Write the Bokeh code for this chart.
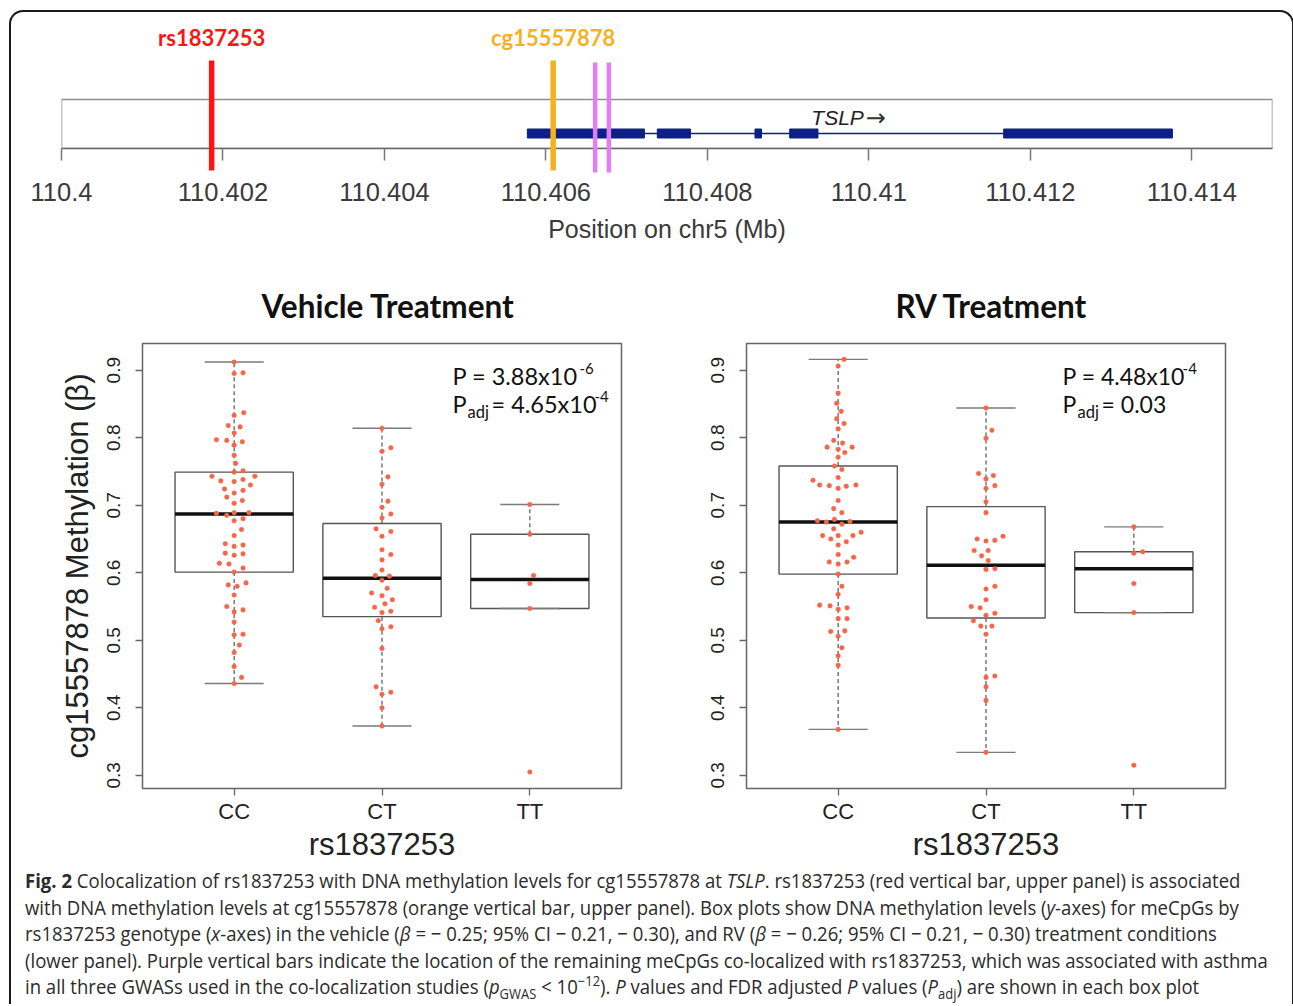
import numpy as np
from bokeh.plotting import figure
from bokeh.models import Range1d, FixedTicker, Label, Div
from bokeh.layouts import column, row
from bokeh.embed import file_html
from bokeh.resources import INLINE
from bokeh.core.properties import value

# ---------------- data: gene track (chr5, Mb) ----------------
track_start, track_end = 110.400, 110.415
track_ticks = [110.400, 110.402, 110.404, 110.406, 110.408, 110.410, 110.412, 110.414]
track_tick_labels = ["110.4", "110.402", "110.404", "110.406", "110.408", "110.41", "110.412", "110.414"]
snp_label = "rs1837253"
snp_pos = 110.40186
cpg_label = "cg15557878"
cpg_pos = 110.40609
other_cpg_pos = [110.40661, 110.40678]
gene_label = "TSLP"
gene_start, gene_end = 110.40577, 110.41376
exon_start = [110.40577, 110.40738, 110.40859, 110.40902, 110.41167]
exon_end = [110.40722, 110.40779, 110.40867, 110.40937, 110.41376]

# ---------------- data: box plots ----------------
genotypes = ["CC", "CT", "TT"]
y_ticks = [0.3, 0.4, 0.5, 0.6, 0.7, 0.8, 0.9]

veh_q1 = [0.601, 0.535, 0.547]
veh_med = [0.687, 0.592, 0.590]
veh_q3 = [0.749, 0.673, 0.657]
veh_lo = [0.436, 0.373, 0.547]
veh_hi = [0.912, 0.814, 0.701]

rv_q1 = [0.598, 0.533, 0.541]
rv_med = [0.675, 0.611, 0.606]
rv_q3 = [0.758, 0.698, 0.631]
rv_lo = [0.368, 0.334, 0.541]
rv_hi = [0.916, 0.844, 0.668]

veh_cc_beta = [0.912, 0.895, 0.896, 0.837, 0.833, 0.818, 0.816, 0.807, 0.797, 0.796,
               0.794, 0.789, 0.774, 0.762, 0.749, 0.751, 0.743, 0.743, 0.736, 0.735,
               0.738, 0.730, 0.724, 0.718, 0.722, 0.712, 0.703, 0.707, 0.688, 0.685,
               0.689, 0.689, 0.677, 0.680, 0.664, 0.655, 0.643, 0.639, 0.641, 0.629,
               0.626, 0.628, 0.614, 0.613, 0.601, 0.607, 0.582, 0.580, 0.585, 0.567,
               0.550, 0.542, 0.545, 0.527, 0.508, 0.509, 0.493, 0.482, 0.461, 0.445,
               0.436]
veh_cc_jit = [0, 0, .06, .065, 0, -.04, .04, 0, -.12, -.05,
              .055, 0, 0, .01, 0, .06, -.15, .14, -.09, 0,
              .06, .11, -.065, 0, .06, -.05, 0, .055, -.12, -.05,
              0, .1, 0, .06, .05, 0, -.06, 0, .06, -.06,
              0, .06, -.1, -.035, 0, .06, -.04, .02, .08, 0,
              -.05, 0, .06, 0, 0, .06, .035, 0, 0, .05,
              0]
veh_ct_beta = [0.814, 0.780, 0.785, 0.742, 0.731, 0.706, 0.697, 0.687, 0.681, 0.665,
               0.661, 0.654, 0.634, 0.627, 0.619, 0.604, 0.596, 0.595, 0.589, 0.577,
               0.570, 0.566, 0.560, 0.554, 0.549, 0.541, 0.543, 0.529, 0.517, 0.520,
               0.488, 0.431, 0.420, 0.423, 0.400, 0.373]
veh_ct_jit = [0, 0, .06, .04, 0, .04, 0, .06, 0, -.04,
              .06, 0, 0, .06, 0, 0, -.045, .05, 0, .035,
              -.07, 0, .07, .02, -.05, 0, .06, -.025, 0, .06,
              0, -.04, 0, .06, 0, 0]
veh_tt_beta = [0.701, 0.657, 0.596, 0.584, 0.547, 0.305]
veh_tt_jit = [0, 0, .025, 0, 0, 0]

rv_cc_beta = [0.916, 0.906, 0.866, 0.851, 0.839, 0.828, 0.821, 0.813, 0.796, 0.792,
              0.786, 0.786, 0.783, 0.778, 0.771, 0.758, 0.753, 0.741, 0.737, 0.730,
              0.729, 0.725, 0.728, 0.730, 0.707, 0.695, 0.689, 0.677, 0.675, 0.679,
              0.672, 0.676, 0.665, 0.655, 0.650, 0.655, 0.646, 0.655, 0.660, 0.641,
              0.627, 0.623, 0.616, 0.613, 0.616, 0.598, 0.580, 0.568, 0.552, 0.551,
              0.546, 0.548, 0.532, 0.532, 0.513, 0.506, 0.514, 0.489, 0.477, 0.463,
              0.368]
rv_cc_jit = [.04, 0, 0, -.01, .02, -.01, .04, 0, -.03, .03,
             -.075, .095, 0, .045, 0, -.025, .025, 0, -.17, -.125,
             -.06, 0, .055, .12, 0, -.03, .025, -.14, -.08, -.025,
             .025, .08, -.03, -.105, -.05, 0, .055, .1, .155, 0,
             0, .105, -.06, 0, .06, 0, .025, 0, -.125, -.055,
             0, .06, 0, .06, -.05, 0, .045, .025, 0, 0,
             0]
rv_ct_beta = [0.844, 0.811, 0.799, 0.747, 0.744, 0.739, 0.729, 0.725, 0.705, 0.689,
              0.650, 0.647, 0.648, 0.654, 0.633, 0.633, 0.625, 0.618, 0.605, 0.606,
              0.576, 0.580, 0.560, 0.550, 0.548, 0.540, 0.537, 0.529, 0.521, 0.521,
              0.509, 0.445, 0.447, 0.431, 0.411, 0.334]
rv_ct_jit = [0, .04, 0, -.05, .05, 0, .06, 0, 0, 0,
             -.06, 0, .06, .115, -.08, .015, -.03, .015, 0, .06,
             0, .06, 0, -.1, -.04, .06, 0, -.085, -.035, .04,
             0, 0, .06, 0, 0, 0]
rv_tt_beta = [0.668, 0.629, 0.631, 0.584, 0.541, 0.315]
rv_tt_jit = [0, 0, .06, 0, 0, 0]

veh_p = ("P = 3.88x10", "-6")
veh_padj = ("= 4.65x10", "-4")
rv_p = ("P = 4.48x10", "-4")
rv_padj = ("= 0.03", "")

# ---------------- styles ----------------
SANS = "Liberation Sans"
HUM = "Lato"
NAVY = "#0c1f88"
DOT = "#f4664a"

# ---------------- gene track ----------------
t = figure(frame_width=1211, frame_height=134,
           x_range=Range1d(track_start, track_end), y_range=Range1d(0, 134),
           min_border_left=50, min_border_right=10, min_border_top=2, min_border_bottom=114,
           output_backend="svg", toolbar_location=None)
t.yaxis.visible = False
t.xgrid.visible = False
t.ygrid.visible = False
t.outline_line_color = None
t.background_fill_color = None
t.border_fill_color = None
xa = t.xaxis[0]
xa.ticker = FixedTicker(ticks=track_ticks)
xa.major_label_overrides = {tk: lb for tk, lb in zip(track_ticks, track_tick_labels)}
xa.minor_tick_line_color = None
xa.major_tick_in = 0
xa.major_tick_out = 12
xa.major_tick_line_color = "#777777"
xa.major_tick_line_width = 1.5
xa.axis_line_color = "#666666"
xa.axis_line_width = 1.5
xa.major_label_standoff = 22
xa.major_label_text_font = SANS
xa.major_label_text_font_size = "25.5px"
xa.major_label_text_color = "#3a3a3a"
xa.axis_label = "Position on chr5 (Mb)"
xa.axis_label_text_font = SANS
xa.axis_label_text_font_style = "normal"
xa.axis_label_text_font_size = "25px"
xa.axis_label_text_color = "#3a3a3a"
xa.axis_label_standoff = 11

t.quad(left=[track_start], right=[track_end], bottom=[0], top=[49],
       fill_color=None, line_color="#8f8f8f", line_width=1.5)
t.segment(x0=[gene_start], y0=[15], x1=[gene_end], y1=[15], line_color=NAVY, line_width=1.6)
t.quad(left=exon_start, right=exon_end, bottom=10.5, top=19.5, fill_color=NAVY, line_color=NAVY)
gene_mid = (gene_start + gene_end) / 2
t.text(x=[gene_mid], y=[31], text=[gene_label], x_offset=14,
       text_align="right", text_baseline="middle", text_font=value(SANS),
       text_font_style="italic", text_font_size="21px", text_color="#222222")
t.text(x=[gene_mid], y=[31], text=["\u2192"], x_offset=16,
       text_align="left", text_baseline="middle", text_font=value("DejaVu Sans"),
       text_font_size="24px", text_color="#333333")
r1 = t.segment(x0=[snp_pos], y0=[-22], x1=[snp_pos], y1=[88], line_color="#ff1414", line_width=5.5)
r2 = t.segment(x0=[cpg_pos], y0=[-22], x1=[cpg_pos], y1=[88], line_color="#f5b21c", line_width=5.5)
r3 = t.segment(x0=other_cpg_pos, y0=-24, x1=other_cpg_pos, y1=86, line_color="#e07ef6", line_width=4.5)
for r in (r1, r2, r3):
    r.level = "overlay"
t.text(x=[snp_pos], y=[111], text=[snp_label], text_align="center", text_baseline="middle",
       text_font=value(HUM), text_font_style="bold", text_font_size="22px", text_color="#ff1414")
t.text(x=[cpg_pos], y=[111], text=[cpg_label], text_align="center", text_baseline="middle",
       text_font=value(HUM), text_font_style="bold", text_font_size="22px", text_color="#f5b21c")


# ---------------- box plots ----------------
def box_panel(title, q1, med, q3, lo, hi, groups, ylabel, bl, br, ptxt, padj, px, fs, w1, w2, toff):
    p = figure(frame_width=479, frame_height=445,
               x_range=Range1d(0.38, 3.62), y_range=Range1d(0.2805, 0.9395),
               min_border_left=bl, min_border_right=br, min_border_top=81, min_border_bottom=80,
               output_backend="svg", toolbar_location=None, title=title)
    p.xgrid.visible = False
    p.ygrid.visible = False
    p.outline_line_color = "#666666"
    p.outline_line_width = 1.5
    p.border_fill_color = None
    p.title.align = "left"
    p.title.offset = toff
    p.title.standoff = 37
    p.title.text_font = HUM
    p.title.text_font_style = "bold"
    p.title.text_font_size = "31.5px"
    p.title.text_color = "#111111"

    pos = list(range(1, len(genotypes) + 1))
    ax = p.xaxis[0]
    ax.ticker = FixedTicker(ticks=pos)
    ax.major_label_overrides = {k: g for k, g in zip(pos, genotypes)}
    ax.axis_label = "rs1837253"
    ay = p.yaxis[0]
    ay.ticker = FixedTicker(ticks=y_ticks)
    ay.major_label_overrides = {v: f"{v:.1f}" for v in y_ticks}
    ay.major_label_orientation = "vertical"
    ay.axis_label = ylabel
    for a in (ax, ay):
        a.axis_line_color = None
        a.minor_tick_line_color = None
        a.major_tick_in = 0
        a.major_tick_out = 7
        a.major_tick_line_color = "#666666"
        a.major_tick_line_width = 1.3
        a.major_label_text_font = SANS
        a.major_label_text_color = "#222222"
        a.axis_label_text_font = SANS
        a.axis_label_text_font_style = "normal"
        a.axis_label_text_font_size = "31px"
        a.axis_label_text_color = "#222222"
    ax.major_label_text_font_size = "22px"
    ax.major_label_standoff = 3
    ax.axis_label_standoff = 0
    ay.major_label_text_font_size = "19px"
    ay.major_label_standoff = 15
    ay.axis_label_standoff = 10

    # whiskers
    p.segment(x0=pos, y0=q3, x1=pos, y1=hi, line_color="#555555", line_width=1.2, line_dash="4 3")
    p.segment(x0=pos, y0=q1, x1=pos, y1=lo, line_color="#555555", line_width=1.2, line_dash="4 3")
    # boxes
    p.quad(left=[x - 0.4 for x in pos], right=[x + 0.4 for x in pos], bottom=q1, top=q3,
           fill_color="white", line_color="#555555", line_width=1.4)
    # caps
    p.segment(x0=[x - 0.2 for x in pos], y0=hi, x1=[x + 0.2 for x in pos], y1=hi,
              line_color="#7a7a7a", line_width=1.4)
    p.segment(x0=[x - 0.2 for x in pos], y0=lo, x1=[x + 0.2 for x in pos], y1=lo,
              line_color="#7a7a7a", line_width=1.4)
    # medians
    p.segment(x0=[x - 0.4 for x in pos], y0=med, x1=[x + 0.4 for x in pos], y1=med,
              line_color="#111111", line_width=3.5)
    # points
    for x0, (beta, jit) in zip(pos, groups):
        p.scatter(x=[x0 + j for j in jit], y=beta, size=4.6, fill_color=DOT, line_color=DOT,
                  line_width=0.5)

    # P values
    def lab(text, dx, dy, size, y):
        p.add_layout(Label(x=px, y=y, x_offset=dx, y_offset=dy, text=text,
                           text_font=HUM, text_font_size=size, text_color="#111111",
                           text_baseline="middle", text_align="left"))
    lab(ptxt[0], 0, 0, fs, 0.892)
    lab(ptxt[1], w1, 7, "15px", 0.892)
    lab("P", 0, 0, fs, 0.850)
    lab("adj", 15, -8, "16.5px", 0.850)
    lab(padj[0], 39, 0, fs, 0.850)
    if padj[1]:
        lab(padj[1], 39 + w2, 7, "15px", 0.850)
    return p


p1 = box_panel("Vehicle Treatment", veh_q1, veh_med, veh_q3, veh_lo, veh_hi,
               [(veh_cc_beta, veh_cc_jit), (veh_ct_beta, veh_ct_jit), (veh_tt_beta, veh_tt_jit)],
               "cg15557878 Methylation (\u03b2)", 131, 63, veh_p, veh_padj, 2.477, "23.5px", 127, 103, 119)
p2 = box_panel("RV Treatment", rv_q1, rv_med, rv_q3, rv_lo, rv_hi,
               [(rv_cc_beta, rv_cc_jit), (rv_ct_beta, rv_ct_jit), (rv_tt_beta, rv_tt_jit)],
               "", 62, 57, rv_p, rv_padj, 2.518, "23px", 120, 0, 149)

# ---------------- caption ----------------
SUB = "<sub style='font-size:70%;line-height:0'>"
SUP = "<sup style='font-size:70%;line-height:0'>"
caption_lines = [
    "<b>Fig. 2</b> Colocalization of rs1837253 with DNA methylation levels for cg15557878 at <i>TSLP</i>. "
    "rs1837253 (red vertical bar, upper panel) is associated",
    "with DNA methylation levels at cg15557878 (orange vertical bar, upper panel). Box plots show DNA "
    "methylation levels (<i>y</i>-axes) for meCpGs by",
    "rs1837253 genotype (<i>x</i>-axes) in the vehicle (<i>\u03b2</i> = \u2212 0.25; 95% CI \u2212 0.21, "
    "\u2212 0.30), and RV (<i>\u03b2</i> = \u2212 0.26; 95% CI \u2212 0.21, \u2212 0.30) treatment conditions",
    "(lower panel). Purple vertical bars indicate the location of the remaining meCpGs co-localized with "
    "rs1837253, which was associated with asthma",
    "in all three GWASs used in the co-localization studies (<i>p</i>" + SUB + "GWAS</sub> "
    "&lt; 10" + SUP + "\u221212</sup>). <i>P</i> values and FDR adjusted <i>P</i> "
    "values (<i>P</i>" + SUB + "adj</sub>) are shown in each box plot",
]
caption_html = (
    "<div style='margin-left:9px;margin-top:-5px'>"
    "<div style='transform:scaleX(0.927);transform-origin:0 0;white-space:nowrap;"
    "font-family:\"Open Sans\";font-size:20px;line-height:26.6px;color:#2b2b2b'>"
    + "<br>".join(caption_lines) + "</div></div>"
)
cap = Div(text=caption_html, width=1271, height=126)

layout = column(t, row(p1, p2), cap,
                styles={"border": "2px solid #1a1a1a", "border-bottom": "none",
                        "border-radius": "14px 14px 0 0", "margin-left": "9px", "margin-top": "10px"})

open("out.html", "w").write(file_html(layout, INLINE))
